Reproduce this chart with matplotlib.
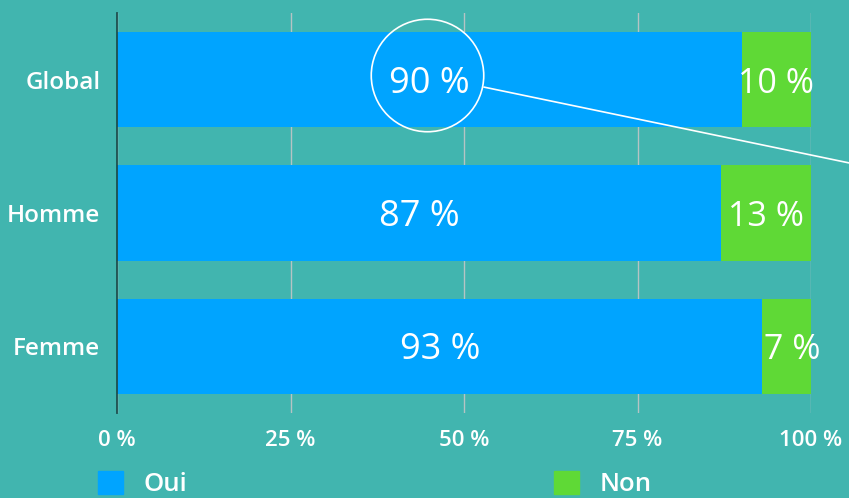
import matplotlib.pyplot as plt
from matplotlib.patches import Patch

groups = ['Global', 'Homme', 'Femme']
oui = [90, 87, 93]
non = [10, 13, 7]
ticks = [0, 25, 50, 75, 100]
tick_labels = ['0 %', '25 %', '50 %', '75 %', '100 %']

bg = '#41b5af'
blue = '#00a4ff'
green = '#5fd936'

plt.rcParams['font.family'] = ['Open Sans', 'DejaVu Sans']

fig = plt.figure(figsize=(8.49, 4.98), dpi=100, facecolor=bg)
ax = fig.add_axes([117 / 849, 85 / 498, 694 / 849, 400 / 498])
ax.set_facecolor('none')

y = list(range(len(groups)))
ax.barh(y, oui, height=0.714, color=blue, zorder=2)
ax.barh(y, non, left=oui, height=0.714, color=green, zorder=2)

for i in y:
    ax.text(oui[i] / 2, i + 0.03, f'{oui[i]} %', ha='center', va='center',
            color='white', fontsize=26, zorder=3)
    ax.text(oui[i] + non[i] / 2 + (0.8 if non[i] < 10 else 0), i + 0.03, f'{non[i]} %',
            ha='center', va='center', color='white', fontsize=24.5, zorder=3)

# highlight circle around the global value
ax.plot([44.7], [-0.034], marker='o', markersize=81, markerfacecolor='none',
        markeredgecolor='white', markeredgewidth=1.2, zorder=4, clip_on=False)
ax.plot([52.9, 106], [0.056, 0.63], color='white', lw=1.2, zorder=4, clip_on=False)

ax.set_xlim(0, 100)
ax.set_ylim(2.5, -0.5)
ax.set_xticks(ticks)
ax.set_xticklabels(tick_labels)
ax.set_yticks(y)
ax.set_yticklabels(groups)
ax.tick_params(axis='x', length=0, pad=12, colors='white', labelsize=16)
ax.tick_params(axis='y', length=0, pad=12, colors='white', labelsize=17.5)
for lbl in ax.get_yticklabels() + ax.get_xticklabels():
    lbl.set_fontweight('semibold')

ax.grid(axis='x', color='#b5c4c4', lw=1, zorder=1)
ax.set_axisbelow(True)
for s in ['top', 'right', 'bottom']:
    ax.spines[s].set_visible(False)
ax.spines['left'].set_color('#1d4f4f')
ax.spines['left'].set_linewidth(1.3)
ax.spines['left'].set_zorder(3)

handles = [Patch(color=blue, label='Oui'), Patch(color=green, label='Non')]
leg = fig.legend(handles=handles, loc='lower left', bbox_to_anchor=(75 / 849, -0.045),
                 ncol=2, frameon=False, handlelength=0.95, handleheight=0.95,
                 handletextpad=0.8, columnspacing=14.3, labelcolor='white',
                 prop={'size': 18.5, 'weight': 'semibold'})

fig.savefig('out.png', dpi=100, facecolor=bg)
